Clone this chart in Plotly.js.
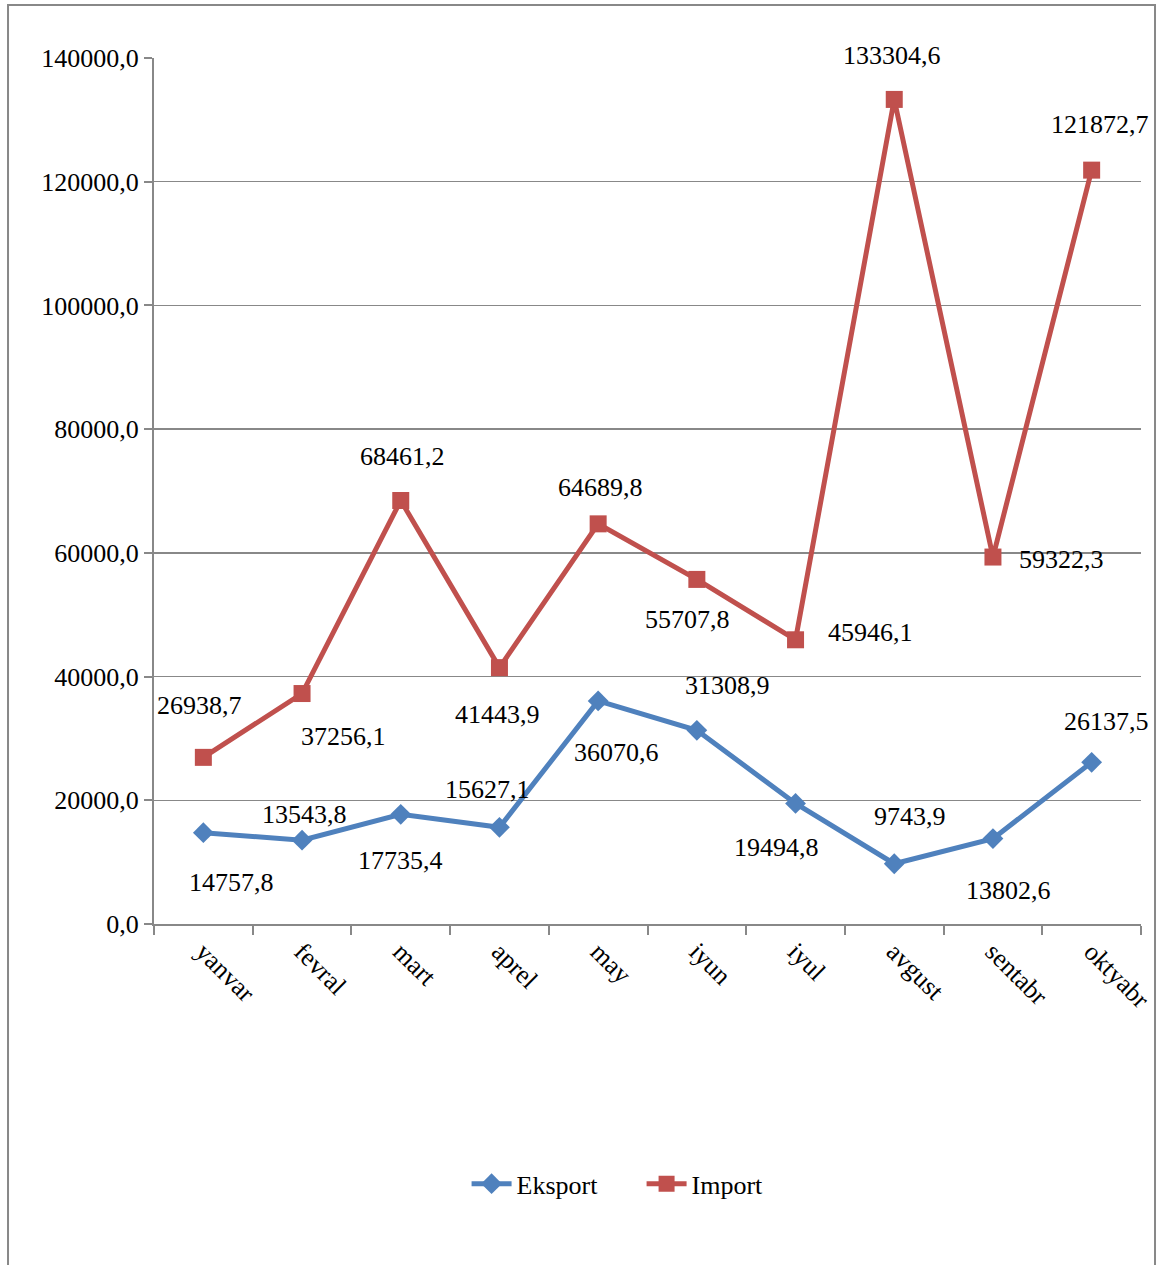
<!DOCTYPE html>
<html>
<head>
<meta charset="utf-8">
<script src="https://cdn.plot.ly/plotly-3.0.1.min.js"></script>
<style>html,body{margin:0;padding:0;background:#fff;}#chart{width:1159px;height:1265px;}</style>
</head>
<body>
<div id="chart"></div>
<script>
var months = ["yanvar","fevral","mart","aprel","may","iyun","iyul","avgust","sentabr","oktyabr"];
var eksport = [14757.8, 13543.8, 17735.4, 15627.1, 36070.6, 31308.9, 19494.8, 9743.9, 13802.6, 26137.5];
var importV = [26938.7, 37256.1, 68461.2, 41443.9, 64689.8, 55707.8, 45946.1, 133304.6, 59322.3, 121872.7];
var yTicks = [0, 20000, 40000, 60000, 80000, 100000, 120000, 140000];

// label offsets (pixels) to mimic the original label placement
var eksOff = [[28,-50],[2,26],[0,-46],[-12,38],[18,-52],[31,45],[-19,-44],[16,47],[16,-52],[15,41]];
var impOff = [[-4,52],[41,-43],[2,44],[-2,-47],[2,36],[-9,-40],[75,7],[-2,44],[69,-2],[8,46]];

var FONT = "'Liberation Serif', 'Times New Roman', serif";
function fmt(v){ return v.toFixed(1).replace('.', ','); }

var blue = "#4F81BD", red = "#C0504D";

var traces = [
  {x: months, y: eksport, name: "Eksport", type: "scatter", mode: "lines+markers",
   line: {color: blue, width: 5}, marker: {symbol: "diamond", size: 16, color: blue},
   hoverinfo: "skip"},
  {x: months, y: importV, name: "Import", type: "scatter", mode: "lines+markers",
   line: {color: red, width: 5}, marker: {symbol: "square", size: 17, color: red},
   hoverinfo: "skip"}
];

var annotations = [];
months.forEach(function(m, i){
  annotations.push({x: m, y: eksport[i], xref: "x", yref: "y", text: fmt(eksport[i]), showarrow: false,
    xshift: eksOff[i][0], yshift: eksOff[i][1], font: {family: FONT, size: 26, color: "#000"}});
  annotations.push({x: m, y: importV[i], xref: "x", yref: "y", text: fmt(importV[i]), showarrow: false,
    xshift: impOff[i][0], yshift: impOff[i][1], font: {family: FONT, size: 26, color: "#000"}});
});

var layout = {
  width: 1159, height: 1265,
  paper_bgcolor: "#fff", plot_bgcolor: "#fff",
  separators: ", ",
  margin: {l: 154, r: 18, t: 58, b: 341},
  font: {family: FONT, size: 26, color: "#000"},
  showlegend: true,
  legend: {orientation: "h", x: 0.494, xanchor: "center", y: -0.300, yanchor: "middle",
    font: {family: FONT, size: 26, color: "#000"}, itemwidth: 40, entrywidth: 120},
  xaxis: {type: "category", range: [-0.5, 9.5], tickangle: 45, tickson: "boundaries",
    ticks: "outside", ticklen: 9, tickwidth: 2, tickcolor: "#888",
    showline: true, linecolor: "#888", linewidth: 2, showgrid: false, zeroline: false,
    tickfont: {family: FONT, size: 26, color: "#000"}, fixedrange: true},
  yaxis: {range: [0, 140000], tickvals: yTicks, tickformat: ".1f",
    ticks: "outside", ticklen: 8, tickwidth: 2, tickcolor: "#888",
    showline: true, linecolor: "#888", linewidth: 2,
    showgrid: true, gridcolor: "#888", gridwidth: 1.5, zeroline: false,
    tickfont: {family: FONT, size: 26, color: "#000"}, fixedrange: true},
  annotations: annotations,
  shapes: [
    {type: "rect", xref: "paper", yref: "paper", x0: -0.1479, x1: 1.0142, y0: -0.41, y1: 1.0612,
     line: {color: "#888", width: 2}, fillcolor: "rgba(0,0,0,0)", layer: "below"}
  ]
};

Plotly.newPlot("chart", traces, layout, {displayModeBar: false, staticPlot: true});
</script>
</body>
</html>
